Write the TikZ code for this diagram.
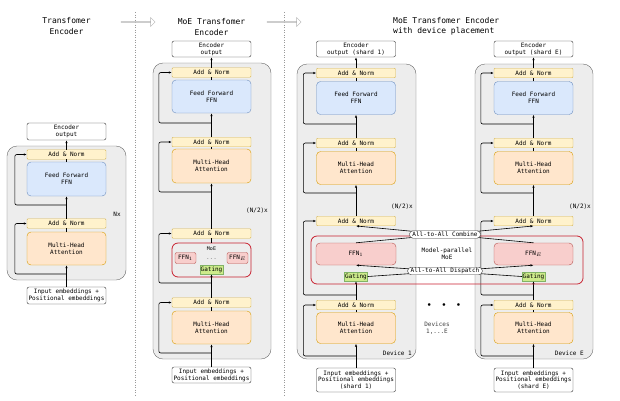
\documentclass[tikz,border=0pt]{standalone}
\usepackage{fontspec}
\setmainfont{DejaVu Sans Mono}
\usetikzlibrary{arrows.meta,shapes.arrows}
\definecolor{normfill}{HTML}{FFF2CC}
\definecolor{normline}{HTML}{D6B656}
\definecolor{ffnfill}{HTML}{DAE8FC}
\definecolor{ffnline}{HTML}{6C8EBF}
\definecolor{attfill}{HTML}{FFE6CC}
\definecolor{attline}{HTML}{D79B00}
\definecolor{expfill}{HTML}{F8CECC}
\definecolor{expline}{HTML}{B85450}
\definecolor{gatefill}{HTML}{CDEB8B}
\definecolor{gateline}{HTML}{82B366}
\definecolor{moered}{HTML}{C8202F}
\begin{document}
\begin{tikzpicture}[x=1pt,y=-1pt,
  every node/.style={font=\fontsize{6}{6.8}\selectfont, inner sep=0pt, align=center},
  title/.style={font=\fontsize{8}{10.5}\selectfont},
  iobox/.style={draw=black!80, fill=white, rounded corners=2pt, minimum width=79pt, minimum height=16pt},
  group/.style={draw=black!60, fill=black!7, rounded corners=10pt},
  norm/.style={draw=normline, fill=normfill, rounded corners=1pt, minimum width=79pt, minimum height=9.5pt},
  ffn/.style={draw=ffnline, fill=ffnfill, rounded corners=4pt, minimum width=79pt, minimum height=33pt},
  attn/.style={draw=attline, fill=attfill, rounded corners=4pt, minimum width=79pt, minimum height=33pt},
  expert/.style={draw=expline, fill=expfill, rounded corners=2pt},
  gate/.style={draw=gateline, fill=gatefill, minimum width=23pt, minimum height=9pt},
  moe/.style={draw=moered, line width=0.8pt, rounded corners=6pt},
  pill/.style={draw=black!80, fill=white, rounded corners=3.5pt, inner xsep=3pt, minimum height=7.5pt},
  link/.style={draw=black, line width=0.6pt},
  arr/.style={link, -{Latex[length=3pt,width=2.4pt]}},
  res/.style={arr, rounded corners=2pt},
  sep/.style={draw=black!40, dotted, line width=0.5pt},
  flow/.style={single arrow, draw=black!30, fill=white, minimum height=34pt, minimum width=9pt, single arrow head extend=2.5pt}
]
\useasboundingbox (0,0) rectangle (620,400);

% separators and flow arrows
\draw[sep] (135,12) -- (135,396);
\draw[sep] (284,12) -- (284,396);
\node[flow] (fwA) at (138,22) {};
\node[flow] (fwB) at (284,22) {};

% plain encoder
\node[title] (tL) at (66.5,26) {Transfomer\\Encoder};
\draw[group] (7,146) rectangle (126,280);
\node[iobox, minimum height=17pt] (outL) at (66.5,131.5) {Encoder\\output};
\node[norm] (anL1) at (66.5,154.5) {Add \& Norm};
\node[ffn, minimum height=34pt] (ffL) at (66.5,179) {Feed Forward\\FFN};
\node[norm] (anL2) at (66.5,223.5) {Add \& Norm};
\node[attn] (atL) at (66.5,248.5) {Multi-Head\\Attention};
\node[iobox, minimum height=17pt] (inL) at (66.5,295.5) {Input embeddings +\\Positional embeddings};
\node (nL) at (117,214) {Nx};
\draw[arr] (inL) -- (atL);
\draw[link] (atL) -- (anL2);
\draw[arr] (anL2) -- (ffL);
\draw[link] (ffL) -- (anL1);
\draw[arr] (anL1) -- (outL);
\coordinate (rL2) at (66.5,274);
\coordinate (rL1) at (66.5,205);
\draw[res] (rL2) -| ([xshift=-12pt]anL2.west) -- (anL2.west);
\draw[res] (rL1) -| ([xshift=-12pt]anL1.west) -- (anL1.west);

% MoE encoder
\node[title] (tM) at (211.5,27) {MoE Transfomer\\Encoder};
\draw[group] (153,63) rectangle (271,359);
\node[iobox] (outM) at (211.5,49) {Encoder\\output};
\node[norm] (anM1) at (211.5,72.5) {Add \& Norm};
\node[ffn] (ffM) at (211.5,96.5) {Feed Forward\\FFN};
\node[norm] (anM2) at (211.5,142) {Add \& Norm};
\node[attn, minimum height=34pt] (atM1) at (211.5,166) {Multi-Head\\Attention};
\node (nM) at (257,211) {(N/2)x};
\node[norm] (anM3) at (211.5,233.5) {Add \& Norm};
\node[moe, minimum width=79pt, minimum height=34pt] (moeM) at (211.5,260) {};
\node[expert, minimum width=21pt, minimum height=11pt] (e1M) at (185.5,258) {FFN$_1$};
\node[expert, minimum width=21pt, minimum height=11pt] (eEM) at (237.5,258) {FFN$_E$};
\node[font=\fontsize{5}{6}\selectfont] (lM) at (211.5,249) {MoE};
\node[text=black!50] (dM) at (211.5,259) {...};
\node[gate] (gM) at (211.5,269.5) {Gating};
\node[norm] (anM4) at (211.5,302.5) {Add \& Norm};
\node[attn] (atM2) at (211.5,327.5) {Multi-Head\\Attention};
\node[iobox] (inM) at (211.5,375) {Input embeddings +\\Positional embeddings};
\draw[arr] (inM) -- (atM2);
\draw[link] (atM2) -- (anM4);
\draw[arr] (anM4) -- (gM);
\draw[link] (moeM) -- (anM3);
\draw[arr] (anM3) -- (atM1);
\draw[link] (atM1) -- (anM2);
\draw[arr] (anM2) -- (ffM);
\draw[link] (ffM) -- (anM1);
\draw[arr] (anM1) -- (outM);
\coordinate (rM4) at (211.5,353);
\coordinate (rM3) at (211.5,283);
\coordinate (rM2) at (211.5,192);
\coordinate (rM1) at (211.5,123);
\draw[res] (rM4) -| ([xshift=-13pt]anM4.west) -- (anM4.west);
\draw[res] (rM3) -| ([xshift=-13pt]anM3.west) -- (anM3.west);
\draw[res] (rM2) -| ([xshift=-13pt]anM2.west) -- (anM2.west);
\draw[res] (rM1) -| ([xshift=-13pt]anM1.west) -- (anM1.west);

% MoE encoder with device placement
\node[title, anchor=west, align=left] (tD) at (393,26.5) {MoE Transfomer Encoder\\with device placement};
\draw[group] (297,64) rectangle (416,359);
\draw[group] (475,64) rectangle (593,359);

% device 1
\node[iobox] (out1) at (356,49) {Encoder\\output (shard 1)};
\node[norm] (an1a) at (356,73) {Add \& Norm};
\node[ffn] (ff1) at (356,98) {Feed Forward\\FFN};
\node[norm] (an1b) at (356,143) {Add \& Norm};
\node[attn] (at1a) at (356,168) {Multi-Head\\Attention};
\node (n1) at (402,207) {(N/2)x};
\node[norm] (an1c) at (356,221) {Add \& Norm};
\node[expert, minimum width=80pt, minimum height=22pt, rounded corners=4pt] (ex1) at (356,254) {FFN$_1$};
\node[gate] (g1) at (356,276.5) {Gating};
\node[norm] (an1d) at (356,305) {Add \& Norm};
\node[attn, minimum height=31pt] (at1b) at (356,328) {Multi-Head\\Attention};
\node[anchor=east] (dv1) at (412,353) {Device 1};
\node[iobox, minimum height=24pt] (in1) at (356,380) {Input embeddings +\\Positional embeddings\\(shard 1)};
\draw[arr] (in1) -- (at1b);
\draw[link] (at1b) -- (an1d);
\draw[arr] (an1d) -- (g1);
\draw[arr] (an1c) -- (at1a);
\draw[link] (at1a) -- (an1b);
\draw[arr] (an1b) -- (ff1);
\draw[link] (ff1) -- (an1a);
\draw[arr] (an1a) -- (out1);
\coordinate (r1d) at (356,356);
\coordinate (r1c) at (356,295);
\coordinate (r1b) at (356,193);
\coordinate (r1a) at (356,124);
\draw[res] (r1d) -| ([xshift=-13pt]an1d.west) -- (an1d.west);
\draw[res] (r1c) -| ([xshift=-13pt]an1c.west) -- (an1c.west);
\draw[res] (r1b) -| ([xshift=-13pt]an1b.west) -- (an1b.west);
\draw[res] (r1a) -| ([xshift=-13pt]an1a.west) -- (an1a.west);

% device E
\node[iobox] (outE) at (533.5,49) {Encoder\\output (shard E)};
\node[norm] (anEa) at (533.5,73) {Add \& Norm};
\node[ffn] (ffE) at (533.5,98) {Feed Forward\\FFN};
\node[norm] (anEb) at (533.5,143) {Add \& Norm};
\node[attn] (atEa) at (533.5,168) {Multi-Head\\Attention};
\node (nE) at (580,207) {(N/2)x};
\node[norm] (anEc) at (533.5,221) {Add \& Norm};
\node[expert, minimum width=79pt, minimum height=22pt, rounded corners=4pt] (exE) at (533.5,254) {FFN$_E$};
\node[gate] (gE) at (533.5,276.5) {Gating};
\node[norm] (anEd) at (533.5,305) {Add \& Norm};
\node[attn, minimum height=31pt] (atEb) at (533.5,328) {Multi-Head\\Attention};
\node[anchor=east] (dvE) at (584,353) {Device E};
\node[iobox, minimum height=24pt] (inE) at (533.5,380) {Input embeddings +\\Positional embeddings\\(shard E)};
\draw[arr] (inE) -- (atEb);
\draw[link] (atEb) -- (anEd);
\draw[arr] (anEd) -- (gE);
\draw[arr] (anEc) -- (atEa);
\draw[link] (atEa) -- (anEb);
\draw[arr] (anEb) -- (ffE);
\draw[link] (ffE) -- (anEa);
\draw[arr] (anEa) -- (outE);
\coordinate (rEd) at (533.5,356);
\coordinate (rEc) at (533.5,295);
\coordinate (rEb) at (533.5,193);
\coordinate (rEa) at (533.5,124);
\draw[res] (rEd) -| ([xshift=-13pt]anEd.west) -- (anEd.west);
\draw[res] (rEc) -| ([xshift=-13pt]anEc.west) -- (anEc.west);
\draw[res] (rEb) -| ([xshift=-13pt]anEb.west) -- (anEb.west);
\draw[res] (rEa) -| ([xshift=-13pt]anEa.west) -- (anEa.west);

% model-parallel MoE across devices
\draw[moe] (311,236) rectangle (583,284);
\draw[arr] (ex1.north) -- (anEc.south);
\draw[arr] (exE.north) -- (an1c.south);
\draw[arr] (g1.east) -- (exE.south);
\draw[arr] (gE.west) -- (ex1.south);
\node[pill] (comb) at (445,234.5) {All-to-All Combine};
\node[pill] (disp) at (445,271) {All-to-All Dispatch};
\node (mp) at (447,253.5) {Model-parallel\\MoE};
\node[font=\fontsize{6}{7}\selectfont] (dots) at (444,305) {$\bullet$\ \ \ $\bullet$\ \ \ $\bullet$};
\node[text=black!75] (devs) at (437,328) {Devices\\1,...E};
\end{tikzpicture}
\end{document}
